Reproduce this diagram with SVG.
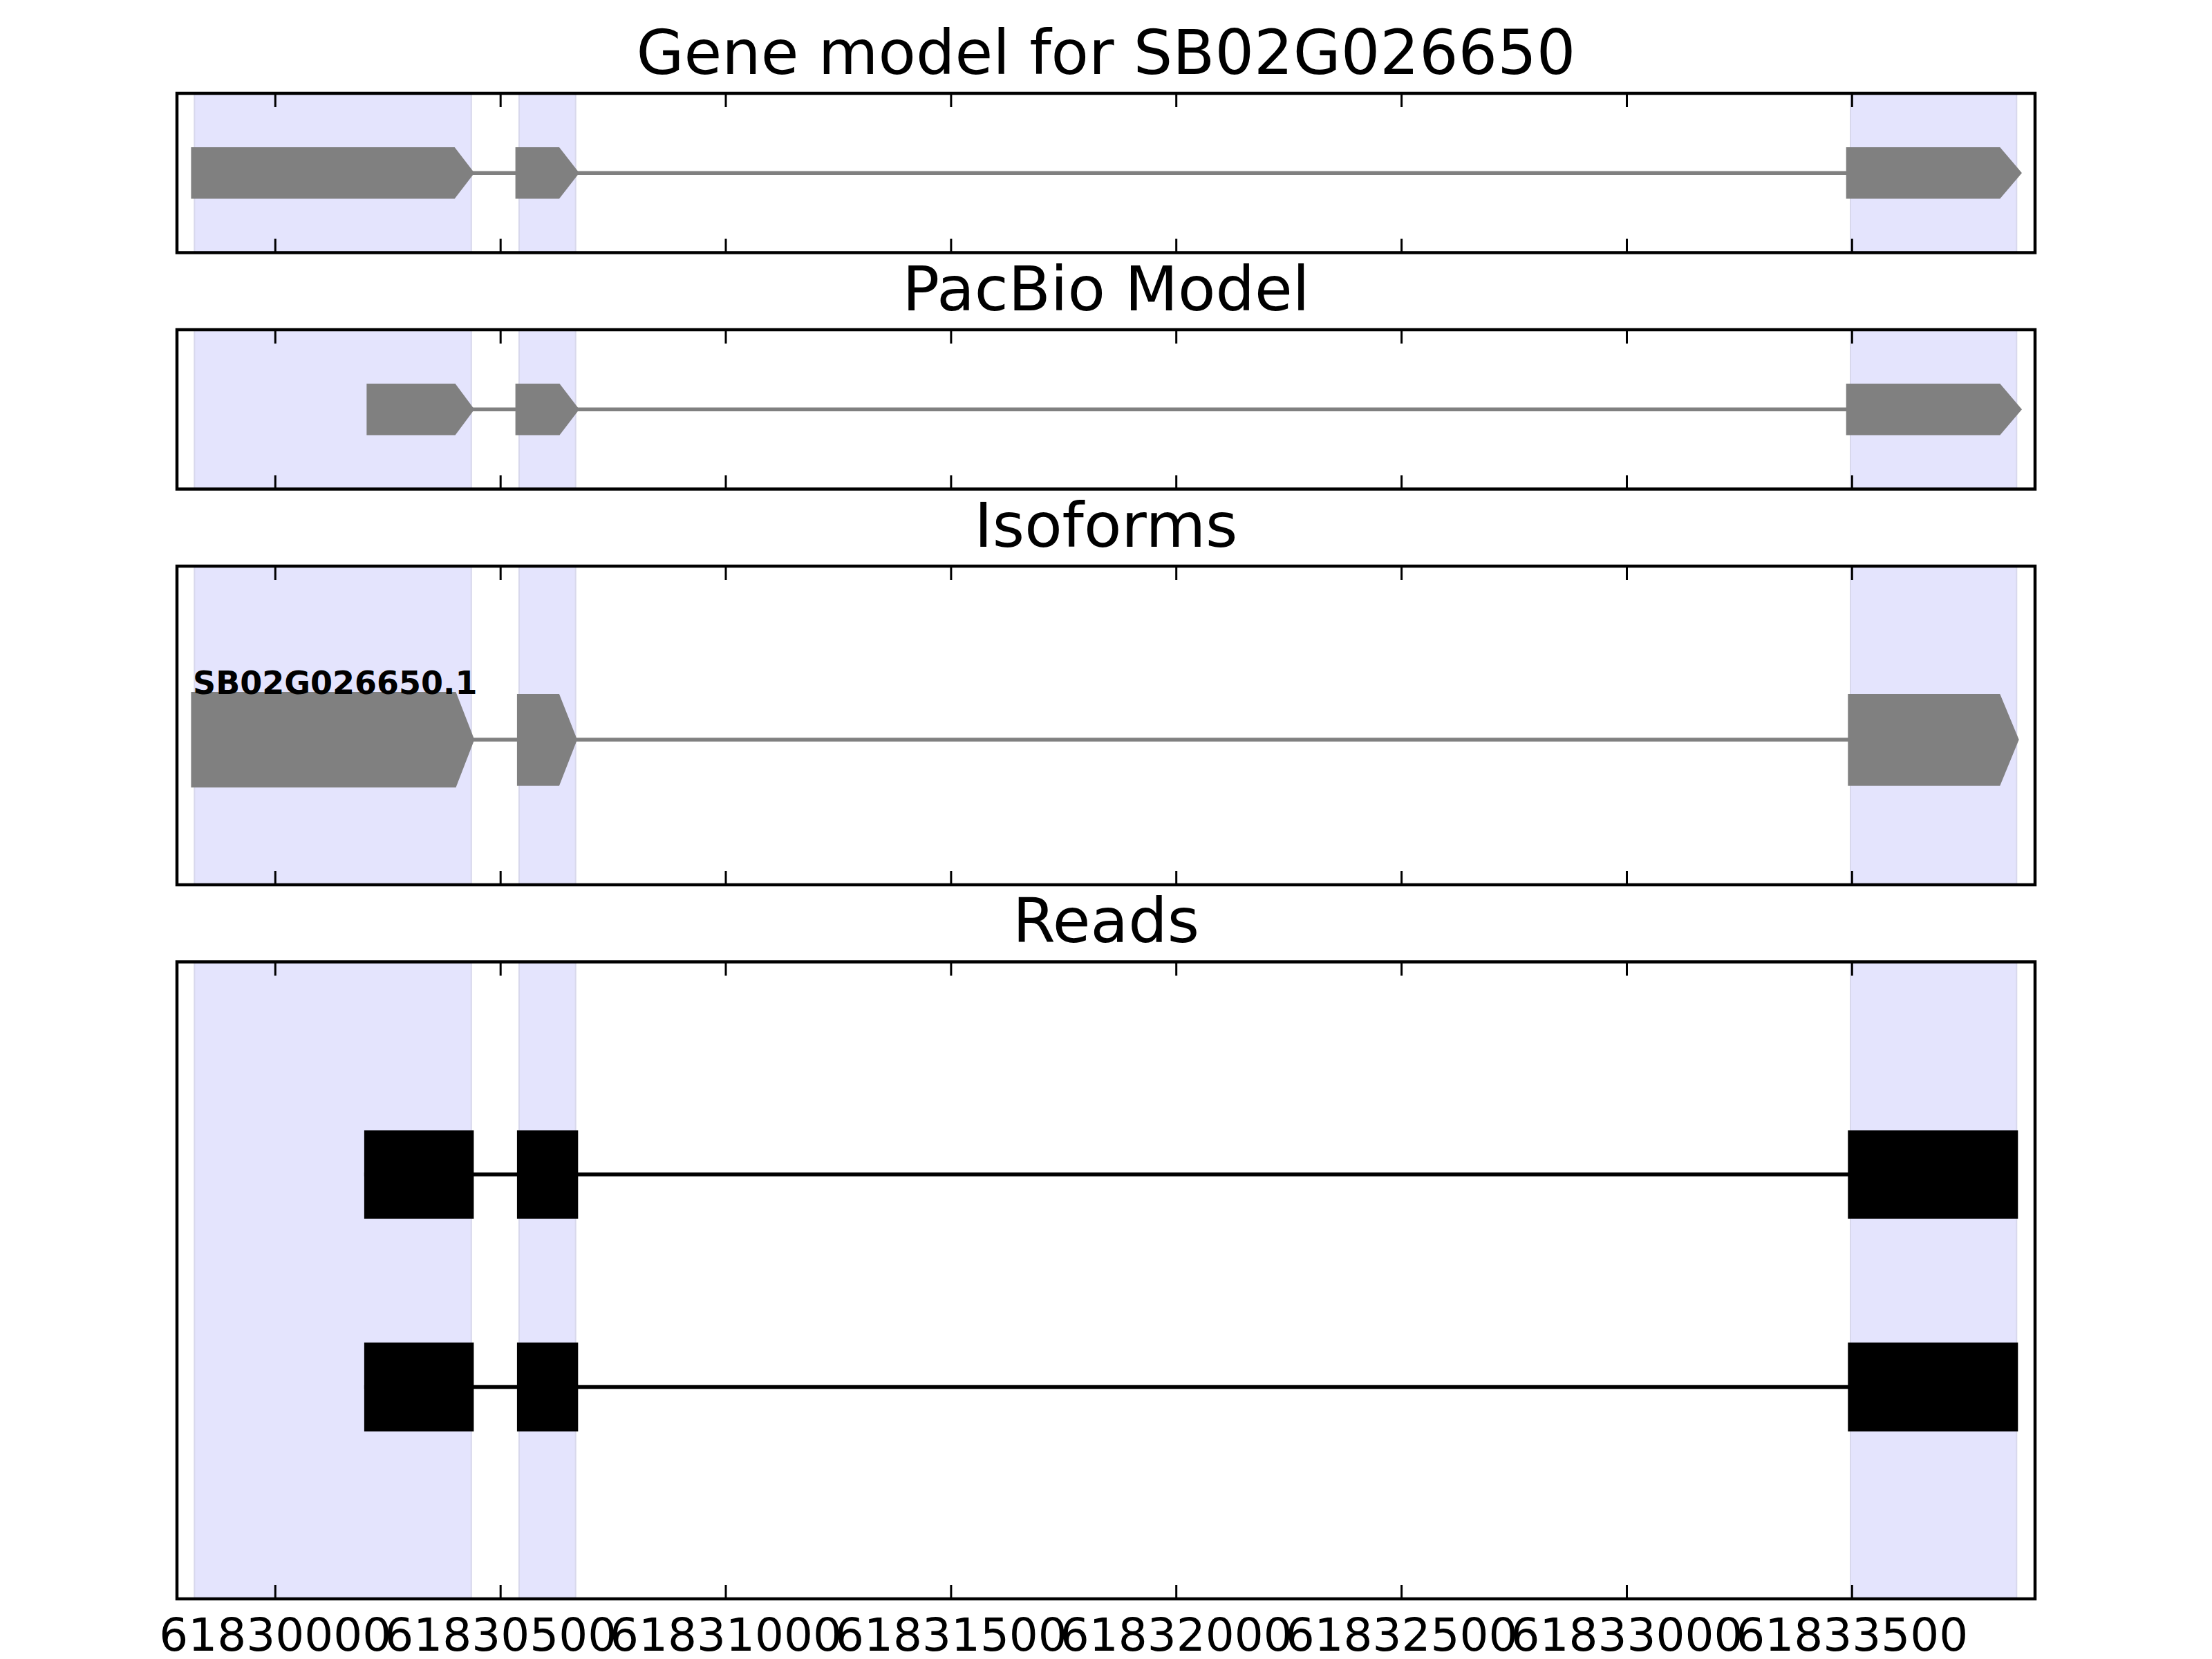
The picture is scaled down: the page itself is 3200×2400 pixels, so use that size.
<svg xmlns="http://www.w3.org/2000/svg" width="3200" height="2400" viewBox="0 0 3200 2400">
<style>
.title{font-family:"DejaVu Sans","Liberation Sans",sans-serif;font-size:89px;fill:#000;text-anchor:middle}
.tick{font-family:"DejaVu Sans","Liberation Sans",sans-serif;font-size:66px;fill:#000;text-anchor:middle}
.lbl{font-family:"DejaVu Sans","Liberation Sans",sans-serif;font-size:46px;font-weight:bold;fill:#000}
.span{fill:#e4e4fd;stroke:#d8d8ec;stroke-width:2}
.exon{fill:#808080;stroke:none}
.read{fill:#000;stroke:none}
.intron{stroke:#808080;stroke-width:5.5;fill:none}
.rline{stroke:#000;stroke-width:5.5;fill:none}
.frame{fill:none;stroke:#000;stroke-width:4.5}
.tk{stroke:#000;stroke-width:3}
</style>
<defs>
<path id="ticksTop" class="tk" d="M398.3 0v20M724.2 0v20M1050 0v20M1375.9 0v20M1701.7 0v20M2027.6 0v20M2353.5 0v20M2679.3 0v20"/>
<path id="ticksBot" class="tk" d="M398.3 0v-20M724.2 0v-20M1050 0v-20M1375.9 0v-20M1701.7 0v-20M2027.6 0v-20M2353.5 0v-20M2679.3 0v-20"/>
</defs>
<rect x="0" y="0" width="3200" height="2400" fill="#fff"/>

<g id="panel-gene-model">
<text class="title" x="1600" y="107">Gene model for SB02G026650</text>
<rect class="span" x="281.3" y="135" width="400.5" height="230.5"/>
<rect class="span" x="751" y="135" width="81.7" height="230.5"/>
<rect class="span" x="2677" y="135" width="240.3" height="230.5"/>
</g>
<g id="panel-pacbio">
<text class="title" x="1600" y="449">PacBio Model</text>
<rect class="span" x="281.3" y="477" width="400.5" height="230.5"/>
<rect class="span" x="751" y="477" width="81.7" height="230.5"/>
<rect class="span" x="2677" y="477" width="240.3" height="230.5"/>
</g>
<g id="panel-isoforms">
<text class="title" x="1600" y="791">Isoforms</text>
<rect class="span" x="281.3" y="819" width="400.5" height="461"/>
<rect class="span" x="751" y="819" width="81.7" height="461"/>
<rect class="span" x="2677" y="819" width="240.3" height="461"/>
</g>
<g id="panel-reads">
<text class="title" x="1600" y="1363">Reads</text>
<rect class="span" x="281.3" y="1391.5" width="400.5" height="921.5"/>
<rect class="span" x="751" y="1391.5" width="81.7" height="921.5"/>
<rect class="span" x="2677" y="1391.5" width="240.3" height="921.5"/>
</g>

<g id="connectors">
<line class="intron" x1="684" y1="250.25" x2="2672" y2="250.25"/>
<line class="intron" x1="684" y1="592.25" x2="2672" y2="592.25"/>
<line class="intron" x1="684" y1="1070" x2="2675" y2="1070"/>
<line class="rline" x1="526.9" y1="1699" x2="2919" y2="1699"/>
<line class="rline" x1="526.9" y1="2006.5" x2="2919" y2="2006.5"/>
</g>

<g id="gm-exon1"><polygon class="exon" points="276.4,213.05 657.7,213.05 686.3,250.25 657.7,287.45 276.4,287.45"/></g>
<g id="gm-exon2"><polygon class="exon" points="745.6,213.05 809,213.05 838,250.25 809,287.45 745.6,287.45"/></g>
<g id="gm-exon3"><polygon class="exon" points="2670.7,213.05 2893.3,213.05 2925,250.25 2893.3,287.45 2670.7,287.45"/></g>

<g id="pb-exon1"><polygon class="exon" points="530.4,555.05 658.6,555.05 686.3,592.25 658.6,629.45 530.4,629.45"/></g>
<g id="pb-exon2"><polygon class="exon" points="745.6,555.05 809.5,555.05 838,592.25 809.5,629.45 745.6,629.45"/></g>
<g id="pb-exon3"><polygon class="exon" points="2670.7,555.05 2893.3,555.05 2925,592.25 2893.3,629.45 2670.7,629.45"/></g>

<g id="iso-exon1"><polygon class="exon" points="276.4,1001 659.5,1001 686.3,1070 659.5,1139.3 276.4,1139.3"/></g>
<g id="iso-exon2"><polygon class="exon" points="747.9,1004 809,1004 835,1070 809,1136.7 747.9,1136.7"/></g>
<g id="iso-exon3"><polygon class="exon" points="2673.3,1004 2893.3,1004 2920.7,1070 2893.3,1136.7 2673.3,1136.7"/></g>
<g id="iso-label"><text class="lbl" x="279" y="1004">SB02G026650.1</text></g>

<g id="read1">
<rect class="read" x="526.9" y="1635.3" width="158.5" height="127.7"/>
<rect class="read" x="747.9" y="1635.3" width="88.4" height="127.7"/>
<rect class="read" x="2673.3" y="1635.3" width="246" height="127.7"/>
</g>
<g id="read2">
<rect class="read" x="526.9" y="1942.3" width="158.5" height="128.4"/>
<rect class="read" x="747.9" y="1942.3" width="88.4" height="128.4"/>
<rect class="read" x="2673.3" y="1942.3" width="246" height="128.4"/>
</g>

<g id="frames">
<rect class="frame" x="256" y="135" width="2688" height="230.5"/>
<use href="#ticksTop" y="135"/><use href="#ticksBot" y="365.5"/>
<rect class="frame" x="256" y="477" width="2688" height="230.5"/>
<use href="#ticksTop" y="477"/><use href="#ticksBot" y="707.5"/>
<rect class="frame" x="256" y="819" width="2688" height="461"/>
<use href="#ticksTop" y="819"/><use href="#ticksBot" y="1280"/>
<rect class="frame" x="256" y="1391.5" width="2688" height="921.5"/>
<use href="#ticksTop" y="1391.5"/><use href="#ticksBot" y="2313"/>
</g>

<g id="xaxis-labels">
<text class="tick" x="398.3" y="2388">61830000</text>
<text class="tick" x="724.2" y="2388">61830500</text>
<text class="tick" x="1050" y="2388">61831000</text>
<text class="tick" x="1375.9" y="2388">61831500</text>
<text class="tick" x="1701.7" y="2388">61832000</text>
<text class="tick" x="2027.6" y="2388">61832500</text>
<text class="tick" x="2353.5" y="2388">61833000</text>
<text class="tick" x="2679.3" y="2388">61833500</text>
</g>
</svg>
